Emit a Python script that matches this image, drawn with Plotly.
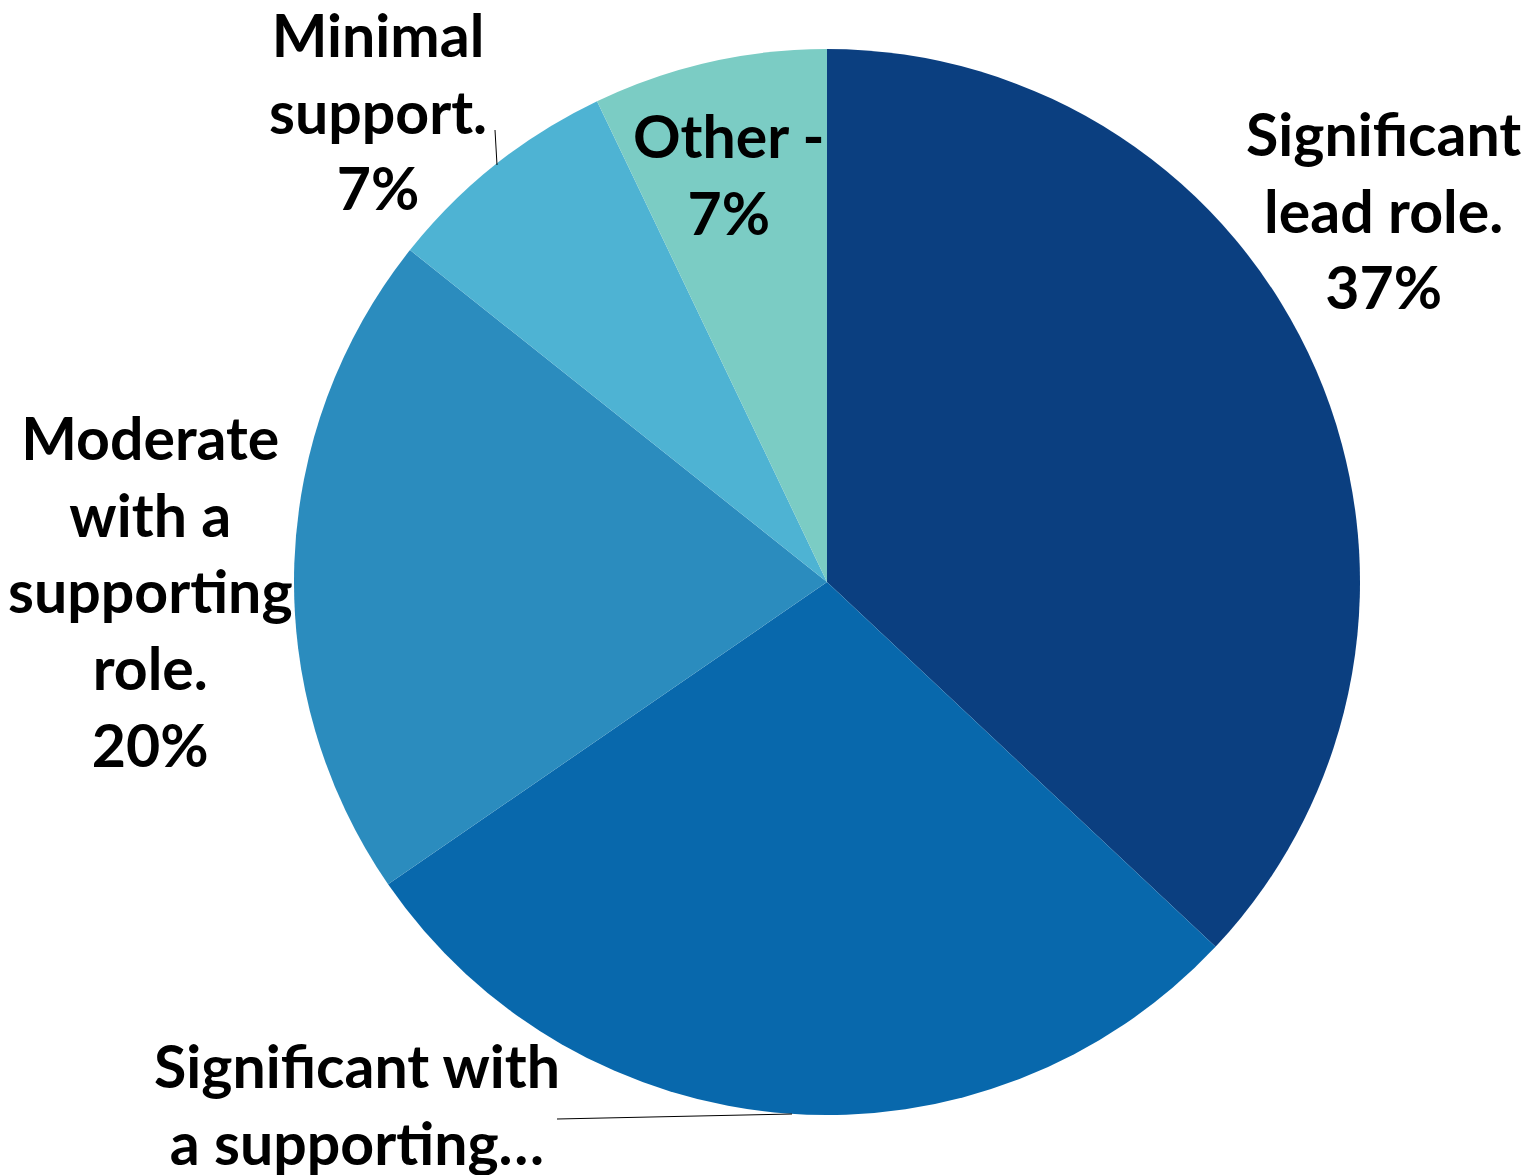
import plotly.graph_objects as go

categories = [
    "Significant lead role.",
    "Significant with a supporting role.",
    "Moderate with a supporting role.",
    "Minimal support.",
    "Other -",
]
shares = [37.0, 28.4, 20.3, 7.2, 7.1]
label_lines = [
    ["Significant", "lead role."],
    ["Significant with", "a supporting…"],
    ["Moderate", "with a", "supporting", "role."],
    ["Minimal", "support."],
    ["Other -"],
]
show_pct = [True, False, True, True, True]
colors = ["#0B3F80", "#0868AC", "#2B8CBE", "#4EB3D3", "#7BCCC4"]

W, H = 1530, 1175
OFF = 8  # page body margin
cx, cy, r = 827 - OFF, 582 - OFF, 533

# label centre positions (pixels, in screenshot coordinates)
label_pos = [(1383, 210), (357, 1104), (150, 591), (378, 111), (728, 174)]

total = sum(shares)
texts = []
for lines, v, sp in zip(label_lines, shares, show_pct):
    t = "<br>".join(lines)
    if sp:
        t += "<br>" + f"{round(v / total * 100)}%"
    texts.append(t)

fig = go.Figure(
    go.Pie(
        labels=categories,
        values=shares,
        sort=False,
        direction="clockwise",
        rotation=0,
        marker=dict(colors=colors, line=dict(width=0)),
        textinfo="none",
        hoverinfo="label+percent",
        showlegend=False,
        domain=dict(x=[(cx - r) / W, (cx + r) / W], y=[(H - cy - r) / H, (H - cy + r) / H]),
    )
)

annotations = []
for t, (px, py) in zip(texts, label_pos):
    annotations.append(
        dict(
            text=t,
            x=(px - OFF) / W,
            y=1 - (py - OFF) / H,
            xref="paper",
            yref="paper",
            xanchor="center",
            yanchor="middle",
            showarrow=False,
            align="center",
            font=dict(family="Lato", size=59, color="#000000", weight="bold"),
        )
    )

leaders = [((495, 130), (497, 165)), ((557, 1119), (792, 1114))]
shapes = []
for (x0, y0), (x1, y1) in leaders:
    shapes.append(
        dict(
            type="line",
            xref="paper",
            yref="paper",
            x0=(x0 - OFF) / W,
            y0=1 - (y0 - OFF) / H,
            x1=(x1 - OFF) / W,
            y1=1 - (y1 - OFF) / H,
            line=dict(color="#000000", width=1),
        )
    )

fig.update_layout(
    width=W,
    height=H,
    margin=dict(l=0, r=0, t=0, b=0),
    paper_bgcolor="white",
    plot_bgcolor="white",
    annotations=annotations,
    shapes=shapes,
)

fig.write_html("out.html")
